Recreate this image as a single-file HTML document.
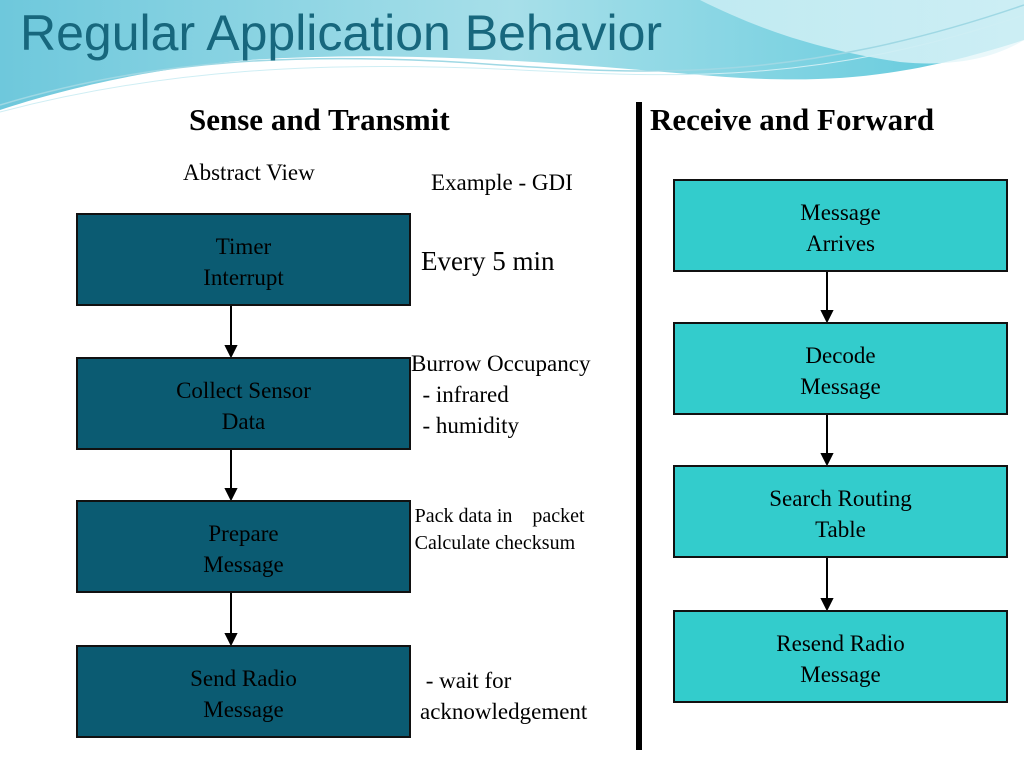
<!DOCTYPE html>
<html><head><meta charset="utf-8"><style>
body{margin:0;width:1024px;height:768px;overflow:hidden;background:#fff;position:relative;font-family:"Liberation Serif",serif;}
.t{position:absolute;white-space:nowrap}
.b{position:absolute;border:2px solid #111;box-sizing:border-box;text-align:center;font-size:23px;line-height:31px;display:flex;flex-direction:column;justify-content:flex-start;padding-top:16px}
.l{left:76px;width:335px;height:93px;background:#0b5b72;color:#000}
.r{left:673px;width:335px;height:93px;background:#33cccc;color:#000}
</style></head><body>
<svg width="1024" height="768" style="position:absolute;left:0;top:0">
<defs>
<linearGradient id="g1" x1="0" y1="0" x2="1" y2="0"><stop offset="0" stop-color="#6ec8dc"/><stop offset="0.5" stop-color="#a7dfe9"/><stop offset="1" stop-color="#5ec9dc"/></linearGradient>
<linearGradient id="g2" x1="0" y1="0" x2="1" y2="0"><stop offset="0" stop-color="#cdeff5"/><stop offset="1" stop-color="#e8f7fa"/></linearGradient>
</defs>
<path d="M0 0 H1024 V40 C900 80 820 85 700 75 C550 62 400 50 250 60 C150 68 60 90 0 110 Z" fill="url(#g1)"/>
<path d="M700 0 C760 30 820 50 900 62 C960 68 1000 55 1024 40 V0 Z" fill="url(#g2)" opacity="0.8"/>
<path d="M0 105 C150 60 300 50 500 65 C650 75 800 82 1024 5" stroke="#9fd8e4" fill="none" stroke-width="1.5"/>
<path d="M0 112 C160 70 320 60 520 70 C680 78 820 84 1024 15" stroke="#cfeef4" fill="none" stroke-width="1"/>
<rect x="636" y="102" width="6" height="648" fill="#000"/>
<g stroke="#000" stroke-width="2" fill="#000">
<line x1="231" y1="306" x2="231" y2="350"/><path d="M226 346 L231 356 L236 346Z"/>
<line x1="231" y1="450" x2="231" y2="493"/><path d="M226 489 L231 499 L236 489Z"/>
<line x1="231" y1="593" x2="231" y2="638"/><path d="M226 634 L231 644 L236 634Z"/>
<line x1="827" y1="272" x2="827" y2="315"/><path d="M822 311 L827 321 L832 311Z"/>
<line x1="827" y1="415" x2="827" y2="458"/><path d="M822 454 L827 464 L832 454Z"/>
<line x1="827" y1="558" x2="827" y2="603"/><path d="M822 599 L827 609 L832 599Z"/>
</g>
</svg>
<div class="t" style="left:20px;top:4px;font-family:'Liberation Sans',sans-serif;font-size:50px;color:#17677d">Regular Application Behavior</div>
<div class="t" style="left:189px;top:102px;font-size:31px;font-weight:bold">Sense and Transmit</div>
<div class="t" style="left:650px;top:102px;font-size:31px;font-weight:bold">Receive and Forward</div>
<div class="t" style="left:183px;top:160px;font-size:23px">Abstract View</div>
<div class="t" style="left:431px;top:170px;font-size:23px">Example - GDI</div>
<div class="t" style="left:421px;top:246px;font-size:27px">Every 5 min</div>
<div class="t" style="left:411px;top:348px;font-size:23px;line-height:31px">Burrow Occupancy<br>&nbsp; - infrared<br>&nbsp; - humidity</div>
<div class="t" style="left:403px;top:503px;font-size:20px;line-height:27px">- Pack data in &nbsp;&nbsp; packet<br>- Calculate checksum</div>
<div class="t" style="left:420px;top:665px;font-size:23px;line-height:31px">&nbsp;- wait for<br>acknowledgement</div>
<div class="b l" style="top:213px">Timer<br>Interrupt</div>
<div class="b l" style="top:357px">Collect Sensor<br>Data</div>
<div class="b l" style="top:500px">Prepare<br>Message</div>
<div class="b l" style="top:645px">Send Radio<br>Message</div>
<div class="b r" style="top:179px;padding-top:16px">Message<br>Arrives</div>
<div class="b r" style="top:322px">Decode<br>Message</div>
<div class="b r" style="top:465px">Search Routing<br>Table</div>
<div class="b r" style="top:610px">Resend Radio<br>Message</div>
</body></html>
